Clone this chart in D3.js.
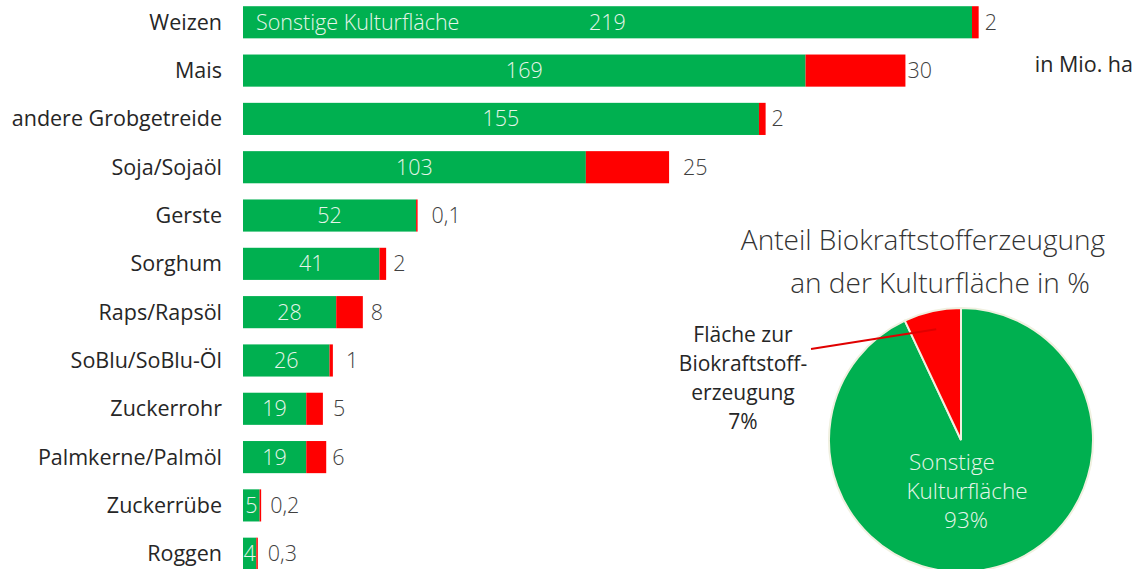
<!DOCTYPE html>
<html><head><meta charset="utf-8">
<script src="https://cdn.jsdelivr.net/npm/d3@7"></script>
<style>body{margin:0;background:#fff;}svg{display:block;font-family:"Open Sans",sans-serif;}</style>
</head><body>
<svg id="c" width="1139" height="569"></svg>
<script>
const categories = ["Weizen","Mais","andere Grobgetreide","Soja/Sojaöl","Gerste","Sorghum","Raps/Rapsöl","SoBlu/SoBlu-Öl","Zuckerrohr","Palmkerne/Palmöl","Zuckerrübe","Roggen"];
const sonstige = [219,169,155,103,52,41,28,26,19,19,5,4];
const biokraft = [2,30,2,25,0.1,2,8,1,5,6,0.2,0.3];
const biokraftLabels = ["2","30","2","25","0,1","2","8","1","5","6","0,2","0,3"];
const pieLabels = ["Sonstige Kulturfläche","Fläche zur Biokraftstofferzeugung"];
const pieValues = [93,7];

const green = "#00b050", red = "#ff0000";
const svg = d3.select("#c");

const x = d3.scaleLinear().domain([0,219]).range([243,972]);
const y = d3.scaleBand().domain(categories).range([-2,578]).paddingInner(0.335).paddingOuter(0.17);

const labelGap = [6,2,6,14,14,7,8,13,10,6,9,10];

const g = svg.append("g");
categories.forEach((c,i)=>{
  const yy = y(c), h = y.bandwidth();
  g.append("rect").attr("x",x(0)).attr("y",yy).attr("width",x(sonstige[i])-x(0)).attr("height",h).attr("fill",green);
  g.append("rect").attr("x",x(sonstige[i])).attr("y",yy).attr("width",Math.max(x(sonstige[i]+biokraft[i])-x(sonstige[i]),1.5)).attr("height",h).attr("fill",red);
  const cy = yy + h/2;
  g.append("text").attr("x",222).attr("y",cy).attr("dy","0.35em").attr("text-anchor","end").attr("font-size",21.5).attr("fill","#262626").text(c);
  g.append("text").attr("x",(x(0)+x(sonstige[i]))/2).attr("y",cy).attr("dy","0.35em").attr("text-anchor","middle").attr("font-size",21.5).attr("font-weight",300).attr("fill","#e6f5ea").text(sonstige[i]);
  const endX = Math.max(x(sonstige[i]+biokraft[i]), x(sonstige[i])+1.5);
  g.append("text").attr("x",endX + labelGap[i]).attr("y",cy).attr("dy","0.35em").attr("font-size",21.5).attr("font-weight",300).attr("fill","#404040").text(biokraftLabels[i]);
});
// Weizen inner label
g.append("text").attr("x",256).attr("y",y("Weizen")+y.bandwidth()/2).attr("dy","0.35em").attr("font-size",21.5).attr("font-weight",300).attr("fill","#e6f5ea").text("Sonstige Kulturfläche");

svg.append("text").attr("x",1133).attr("y",64).attr("dy","0.35em").attr("text-anchor","end").attr("font-size",21.5).attr("fill","#262626").text("in Mio. ha");

// Pie
const cx = 961, cyP = 440, R = 132;
svg.append("text").attr("x",923).attr("y",250).attr("text-anchor","middle").attr("font-size",28).attr("font-weight",300).attr("fill","#333").text("Anteil Biokraftstofferzeugung");
svg.append("text").attr("x",940).attr("y",293).attr("text-anchor","middle").attr("font-size",28).attr("font-weight",300).attr("fill","#333").text("an der Kulturfläche in %");

const pie = d3.pie().sort(null).value(d=>d).startAngle(0).endAngle(2*Math.PI);
const arcs = pie(pieValues);
const arc = d3.arc().innerRadius(0).outerRadius(R);
const pg = svg.append("g").attr("transform",`translate(${cx},${cyP})`);
pg.selectAll("path").data(arcs).join("path").attr("d",arc).attr("fill",(d,i)=>i===0?green:red).attr("stroke","#f0f0e0").attr("stroke-width",2);

const innerLines = ["Sonstige","Kulturfläche","93%"], innerX = [-9,6,5];
pg.append("text").attr("text-anchor","middle").attr("font-size",22.5).attr("font-weight",300).attr("fill","#e6f5ea")
  .selectAll("tspan").data(innerLines).join("tspan").attr("x",(d,i)=>innerX[i]).attr("y",(d,i)=>30+i*29).text(d=>d);

// leader line
const redMid = (arcs[1].startAngle+arcs[1].endAngle)/2;
const lx = Math.sin(redMid)*R*0.86, ly = -Math.cos(redMid)*R*0.86;
pg.append("line").attr("x1",811-cx).attr("y1",349-cyP).attr("x2",lx).attr("y2",ly).attr("stroke","#e00000").attr("stroke-width",2);

svg.append("text").attr("text-anchor","middle").attr("font-size",21).attr("fill","#262626")
  .selectAll("tspan").data(["Fläche zur","Biokraftstoff-","erzeugung","7%"]).join("tspan").attr("x",743).attr("y",(d,i)=>342+i*29).text(d=>d);
</script>
</body></html>
